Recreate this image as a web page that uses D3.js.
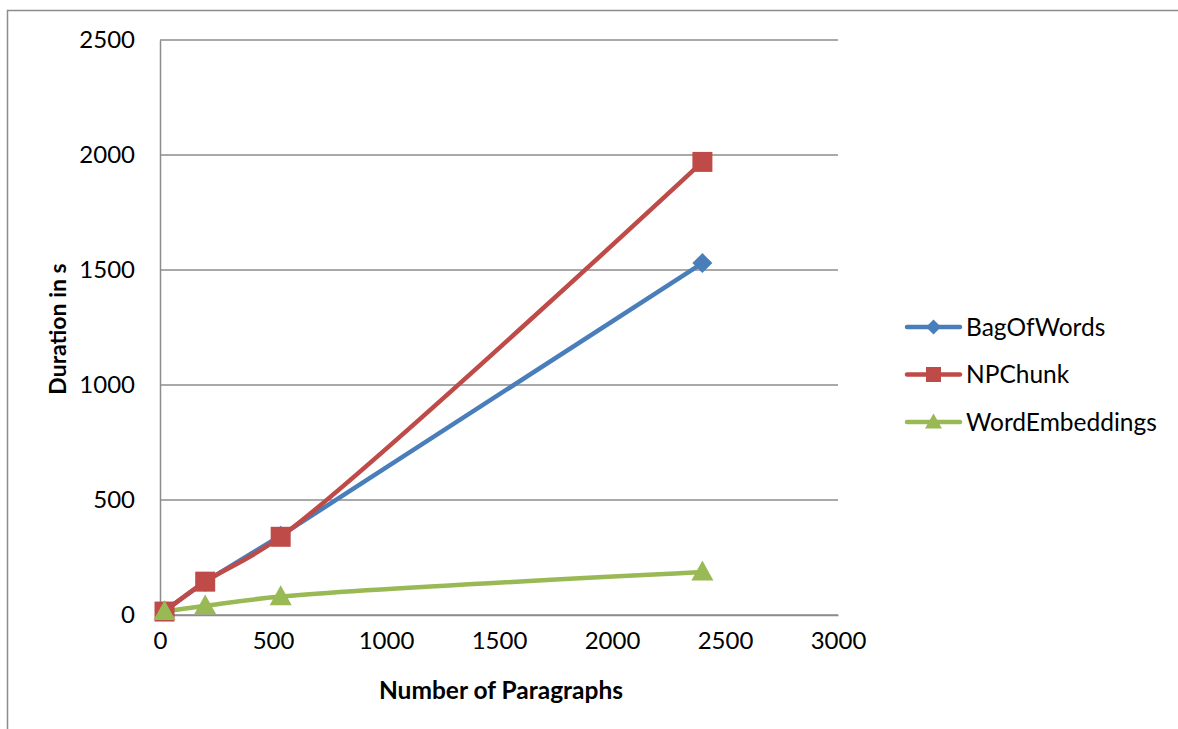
<!DOCTYPE html>
<html>
<head>
<meta charset="utf-8">
<script src="https://cdn.jsdelivr.net/npm/d3@7"></script>
<style>
  html, body { margin: 0; padding: 0; background: #fff; }
  svg { display: block; font-family: Lato, "Open Sans", sans-serif; }
</style>
</head>
<body>
<svg id="chart" width="1178" height="729"></svg>
<script>
// Run time versus number of paragraphs for three representations
const paragraphs = [20, 200, 534, 2400];
const bagOfWords = [18, 145, 345, 1530];
const npChunk = [15, 145, 340, 1970];
const wordEmbeddings = [15, 40, 80, 187];

const xTicks = [0, 500, 1000, 1500, 2000, 2500, 3000];
const yTicks = [0, 500, 1000, 1500, 2000, 2500];

const seriesNames = ["BagOfWords", "NPChunk", "WordEmbeddings"];
const seriesValues = [bagOfWords, npChunk, wordEmbeddings];
const seriesColors = ["#4a7ebb", "#be4b48", "#98b954"];
const seriesMarkers = ["diamond", "square", "triangle"];
const seriesSmooth = [false, true, true];

const svg = d3.select("#chart");
const plot = { left: 160, right: 838, top: 40, bottom: 615 };

const x = d3.scaleLinear().domain([0, 3000]).range([plot.left, plot.right]);
const y = d3.scaleLinear().domain([0, 2500]).range([plot.bottom, plot.top]);

// outer chart frame
svg.append("rect")
  .attr("x", 7.5).attr("y", 10.5)
  .attr("width", 1200).attr("height", 800)
  .attr("fill", "none").attr("stroke", "#8c8c8c").attr("stroke-width", 1.5);

// horizontal gridlines
svg.append("g")
  .selectAll("line")
  .data(yTicks)
  .join("line")
  .attr("x1", plot.left).attr("x2", plot.right)
  .attr("y1", d => y(d)).attr("y2", d => y(d))
  .attr("stroke", "#8c8c8c").attr("stroke-width", 1.5);

// axes
const fmt = d3.format("d");
const yAxis = d3.axisLeft(y).tickValues(yTicks).tickFormat(fmt).tickSize(0).tickPadding(25);
const gy = svg.append("g").attr("transform", `translate(${plot.left},0)`).call(yAxis);
gy.select(".domain").attr("stroke", "#8c8c8c").attr("stroke-width", 1.5);
gy.selectAll("text").attr("font-size", 24).attr("fill", "#000")
  .attr("font-family", "Lato, sans-serif");

const xAxis = d3.axisBottom(x).tickValues(xTicks).tickFormat(fmt).tickSize(0).tickPadding(24);
const gx = svg.append("g").attr("transform", `translate(0,${plot.bottom})`).call(xAxis);
gx.select(".domain").attr("stroke", "#8c8c8c").attr("stroke-width", 1.5);
gx.selectAll("text").attr("font-size", 24).attr("fill", "#000")
  .attr("font-family", "Lato, sans-serif").attr("dy", "0.4em");

// axis titles
svg.append("text")
  .attr("x", 501).attr("y", 699)
  .attr("text-anchor", "middle")
  .attr("font-size", 24.5).attr("font-weight", "bold")
  .text("Number of Paragraphs");

svg.append("text")
  .attr("transform", "translate(66,329) rotate(-90)")
  .attr("text-anchor", "middle")
  .attr("font-size", 23).attr("font-weight", "bold")
  .text("Duration in s");

// marker shapes
function markerPath(kind, size) {
  const h = size / 2;
  if (kind === "diamond") return `M0,${-h}L${h},0L0,${h}L${-h},0Z`;
  if (kind === "square") return `M${-h},${-h}H${h}V${h}H${-h}Z`;
  const t = size * 0.95;
  return `M0,${-t * 0.6}L${h + 1},${t * 0.45}L${-h - 1},${t * 0.45}Z`;
}

const markerSizes = { diamond: 20, square: 20, triangle: 20 };

seriesValues.forEach((vals, i) => {
  const pts = paragraphs.map((p, j) => [p, vals[j]]);
  const line = d3.line()
    .x(d => x(d[0])).y(d => y(d[1]))
    .curve(seriesSmooth[i] ? d3.curveCatmullRom.alpha(0.5) : d3.curveLinear);
  svg.append("path")
    .datum(pts)
    .attr("d", line)
    .attr("fill", "none")
    .attr("stroke", seriesColors[i])
    .attr("stroke-width", 4.5)
    .attr("stroke-linejoin", "round")
    .attr("stroke-linecap", "round");
});

seriesValues.forEach((vals, i) => {
  const pts = paragraphs.map((p, j) => [p, vals[j]]);
  svg.append("g")
    .selectAll("path")
    .data(pts)
    .join("path")
    .attr("transform", d => `translate(${x(d[0])},${y(d[1])})`)
    .attr("d", markerPath(seriesMarkers[i], markerSizes[seriesMarkers[i]]))
    .attr("fill", seriesColors[i]);
});

// legend
const legend = svg.append("g");
seriesNames.forEach((name, i) => {
  const ly = 327 + i * 47.5;
  legend.append("line")
    .attr("x1", 907).attr("x2", 960)
    .attr("y1", ly).attr("y2", ly)
    .attr("stroke", seriesColors[i]).attr("stroke-width", 4.5)
    .attr("stroke-linecap", "round");
  legend.append("path")
    .attr("transform", `translate(933.5,${ly})`)
    .attr("d", markerPath(seriesMarkers[i], 15))
    .attr("fill", seriesColors[i]);
  legend.append("text")
    .attr("x", 966).attr("y", ly)
    .attr("dy", "0.36em")
    .attr("font-size", 24.5)
    .text(name);
});
</script>
</body>
</html>
